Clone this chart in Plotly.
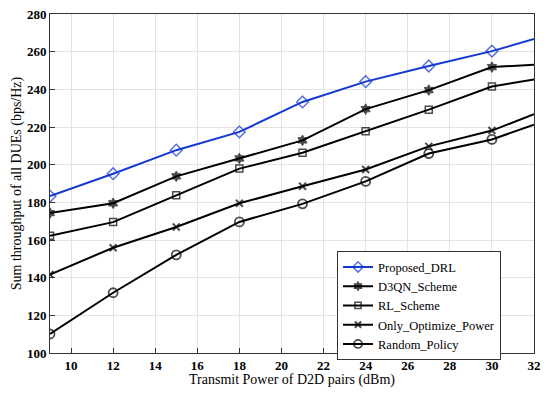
import plotly.graph_objects as go

x = [9, 12, 15, 18, 21, 24, 27, 30, 32]
proposed = [183.3, 195.2, 207.7, 217.4, 233.3, 244.1, 252.4, 260.3, 266.7]
d3qn = [174.3, 179.5, 193.8, 203.3, 212.9, 229.5, 239.6, 251.8, 253.1]
rl = [162.2, 169.5, 183.7, 197.9, 206.3, 217.7, 229.2, 241.5, 245.2]
only_power = [141.7, 155.9, 166.9, 179.5, 188.5, 197.4, 209.7, 218.1, 226.8]
random_policy = [110.1, 132.0, 152.1, 169.6, 179.2, 191.1, 205.9, 213.4, 221.2]
names = ["Proposed_DRL", "D3QN_Scheme", "RL_Scheme", "Only_Optimize_Power", "Random_Policy"]
x_ticks = [10, 12, 14, 16, 18, 20, 22, 24, 26, 28, 30, 32]
y_ticks = [100, 120, 140, 160, 180, 200, 220, 240, 260, 280]

FONT = "Liberation Serif, Times New Roman, serif"
n = len(x)

def msize(s):
    return [s] * (n - 1) + [0]

series = [
    (proposed, "#1238d0", "diamond-open", 9, 1.5),
    (d3qn, "black", "hexagram", 8, 1),
    (rl, "black", "square-open", 7, 1.5),
    (only_power, "black", "x-thin-open", 7, 2),
    (random_policy, "black", "circle-open", 9, 1.8),
]

fig = go.Figure()
for (ys, col, sym, sz, mlw), nm in zip(series, names):
    fig.add_trace(go.Scatter(
        x=x, y=ys, name=nm, mode="lines+markers",
        line=dict(color=col, width=2),
        marker=dict(symbol=sym, size=msize(sz), color=col,
                    line=dict(color=col, width=mlw)),
        cliponaxis=True,
    ))

axis_common = dict(
    showgrid=True, gridcolor="#e3e3e3", gridwidth=1,
    showline=True, linecolor="#333333", linewidth=1, mirror=True,
    ticks="inside", ticklen=5, tickcolor="#333333", zeroline=False,
    automargin=False, tickfont=dict(size=13, color="black"),
    ticklabeloverflow="allow",
)

# page body has an 8px default margin, so the figure is sized to fit the window
fig.update_layout(
    width=534, height=380,
    margin=dict(l=42, r=8, t=6, b=35),
    paper_bgcolor="white", plot_bgcolor="white",
    font=dict(family=FONT, size=13, color="black"),
    xaxis=dict(range=[9, 32], tickvals=x_ticks,
               ticktext=[f"<b>{v}</b>" for v in x_ticks],
               title=dict(text="Transmit Power of D2D pairs (dBm)", standoff=2,
                          font=dict(size=14)),
               **axis_common),
    yaxis=dict(range=[100, 280], tickvals=y_ticks,
               ticktext=[f"<b>{v}</b>" for v in y_ticks],
               title=dict(text="Sum throughput of all DUEs (bps/Hz)", standoff=2,
                          font=dict(size=14)),
               **axis_common),
    legend=dict(x=0.593, y=0.30, xanchor="left", yanchor="top",
                bgcolor="white", bordercolor="#333333", borderwidth=1,
                font=dict(family=FONT, size=12.5), tracegroupgap=0,
                itemwidth=30),
    showlegend=True,
)

fig.write_html("out.html")
